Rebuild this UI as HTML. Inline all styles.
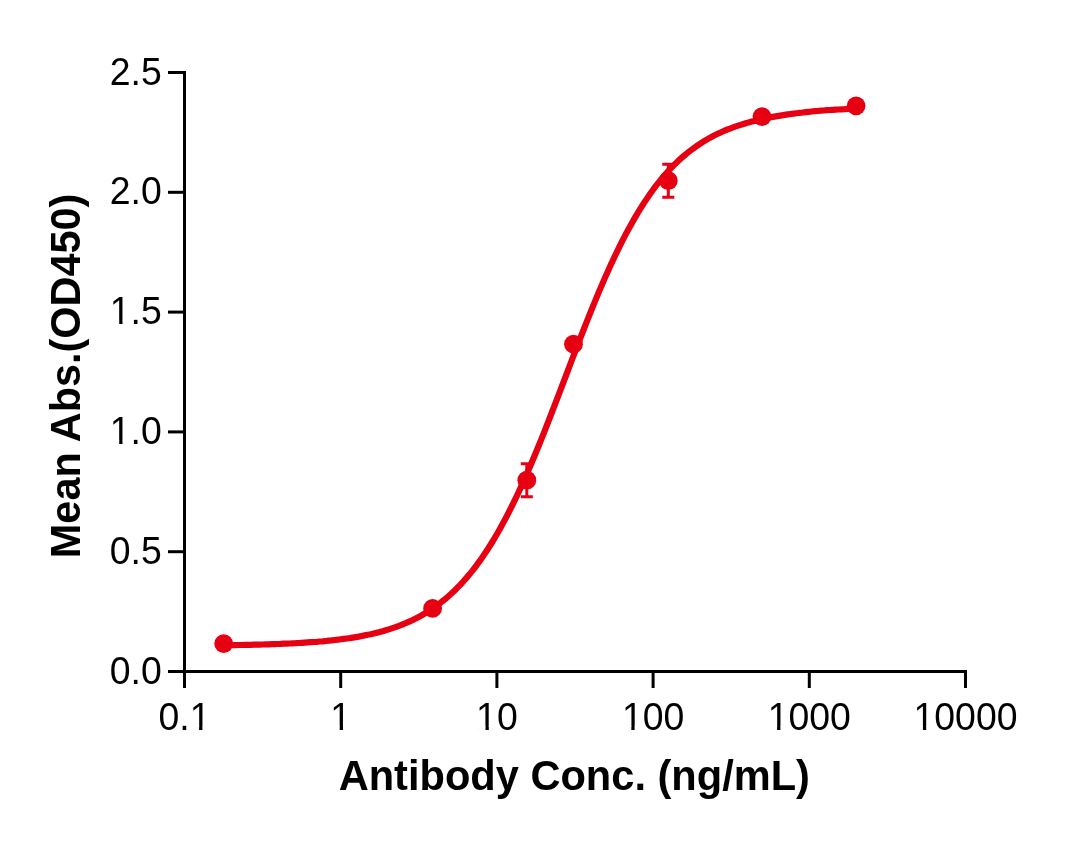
<!DOCTYPE html>
<html><head><meta charset="utf-8"><title>Chart</title>
<style>
html,body{margin:0;padding:0;background:#fff;}
body{width:1088px;height:843px;overflow:hidden;}
svg{display:block;}
text{font-family:"Liberation Sans",sans-serif;fill:#000;}
.tk{font-size:37.4px;}
.tt{font-size:41.6px;font-weight:bold;}
</style></head><body>
<svg width="1088" height="843" viewBox="0 0 1088 843">
<rect width="1088" height="843" fill="#fff"/>
<g stroke="#000" stroke-width="3" fill="none" stroke-linecap="butt">
<path d="M184.5 71.0 V688.0"/>
<path d="M168.0 671.5 H967.0"/>
<path d="M168.0 551.7 H184.5"/>
<path d="M168.0 431.9 H184.5"/>
<path d="M168.0 312.1 H184.5"/>
<path d="M168.0 192.3 H184.5"/>
<path d="M168.0 72.5 H184.5"/>
<path d="M340.7 671.5 V688.0"/>
<path d="M496.9 671.5 V688.0"/>
<path d="M653.1 671.5 V688.0"/>
<path d="M809.3 671.5 V688.0"/>
<path d="M965.5 671.5 V688.0"/>
</g>
<text class="tk" transform="translate(161.8 683.5) scale(1 1.04)" text-anchor="end">0.0</text>
<text class="tk" transform="translate(161.8 563.7) scale(1 1.04)" text-anchor="end">0.5</text>
<text class="tk" transform="translate(161.8 443.9) scale(1 1.04)" text-anchor="end">1.0</text>
<text class="tk" transform="translate(161.8 324.1) scale(1 1.04)" text-anchor="end">1.5</text>
<text class="tk" transform="translate(161.8 204.3) scale(1 1.04)" text-anchor="end">2.0</text>
<text class="tk" transform="translate(161.8 84.5) scale(1 1.04)" text-anchor="end">2.5</text>
<text class="tk" transform="translate(184.5 729.8) scale(1 1.04)" text-anchor="middle">0.1</text>
<text class="tk" transform="translate(340.7 729.8) scale(1 1.04)" text-anchor="middle">1</text>
<text class="tk" transform="translate(496.9 729.8) scale(1 1.04)" text-anchor="middle">10</text>
<text class="tk" transform="translate(653.1 729.8) scale(1 1.04)" text-anchor="middle">100</text>
<text class="tk" transform="translate(809.3 729.8) scale(1 1.04)" text-anchor="middle">1000</text>
<text class="tk" transform="translate(965.5 729.8) scale(1 1.04)" text-anchor="middle">10000</text>
<g fill="#fff"><rect x="111.96" y="440.39" width="7.26" height="4.11"/><rect x="122.52" y="440.39" width="6.96" height="4.11"/><rect x="111.96" y="320.59" width="7.26" height="4.11"/><rect x="122.52" y="320.59" width="6.96" height="4.11"/><rect x="191.84" y="726.29" width="7.26" height="4.11"/><rect x="202.41" y="726.29" width="6.96" height="4.11"/><rect x="332.45" y="726.29" width="7.26" height="4.11"/><rect x="343.01" y="726.29" width="6.96" height="4.11"/><rect x="478.25" y="726.29" width="7.26" height="4.11"/><rect x="488.81" y="726.29" width="6.96" height="4.11"/><rect x="624.05" y="726.29" width="7.26" height="4.11"/><rect x="634.61" y="726.29" width="6.96" height="4.11"/><rect x="769.85" y="726.29" width="7.26" height="4.11"/><rect x="780.41" y="726.29" width="6.96" height="4.11"/><rect x="915.65" y="726.29" width="7.26" height="4.11"/><rect x="926.21" y="726.29" width="6.96" height="4.11"/></g>
<text class="tt" transform="translate(574.3 789.8) scale(1 1.03)" text-anchor="middle">Antibody Conc. (ng/mL)</text>
<text class="tt" style="font-size:41.45px" transform="translate(80.3 375.9) rotate(-90) scale(1 1.045)" text-anchor="middle">Mean Abs.(OD450)</text>
<g stroke="#e60012" stroke-width="3" fill="none">
<path d="M526.8 463.7 V496.7 M520.8 463.7 H532.8 M520.8 496.7 H532.8"/>
<path d="M668.3 164.2 V197.2 M662.3 164.2 H674.3 M662.3 197.2 H674.3"/>
</g>
<path d="M223.7 645.3 L226.7 645.2 L229.7 645.2 L232.7 645.1 L235.7 645.1 L238.7 645.0 L241.7 645.0 L244.7 644.9 L247.7 644.8 L250.7 644.8 L253.7 644.7 L256.7 644.6 L259.7 644.6 L262.7 644.5 L265.7 644.4 L268.7 644.3 L271.7 644.2 L274.7 644.1 L277.7 644.0 L280.7 643.9 L283.7 643.7 L286.7 643.6 L289.7 643.5 L292.7 643.3 L295.7 643.2 L298.7 643.0 L301.7 642.8 L304.7 642.6 L307.7 642.4 L310.7 642.2 L313.7 642.0 L316.7 641.8 L319.7 641.5 L322.7 641.3 L325.7 641.0 L328.7 640.7 L331.7 640.4 L334.7 640.0 L337.7 639.7 L340.7 639.3 L343.7 638.9 L346.7 638.5 L349.7 638.1 L352.7 637.6 L355.7 637.1 L358.7 636.6 L361.7 636.0 L364.7 635.4 L367.7 634.8 L370.7 634.2 L373.7 633.5 L376.7 632.7 L379.7 632.0 L382.7 631.2 L385.7 630.3 L388.7 629.4 L391.7 628.4 L394.7 627.4 L397.7 626.3 L400.7 625.2 L403.7 624.0 L406.7 622.7 L409.7 621.4 L412.7 620.0 L415.7 618.5 L418.7 616.9 L421.7 615.3 L424.7 613.5 L427.7 611.7 L430.7 609.8 L433.7 607.7 L436.7 605.6 L439.7 603.4 L442.7 601.0 L445.7 598.6 L448.7 596.0 L451.7 593.3 L454.7 590.4 L457.7 587.4 L460.7 584.3 L463.7 581.0 L466.7 577.6 L469.7 574.1 L472.7 570.3 L475.7 566.5 L478.7 562.4 L481.7 558.2 L484.7 553.8 L487.7 549.2 L490.7 544.5 L493.7 539.6 L496.7 534.5 L499.7 529.3 L502.7 523.8 L505.7 518.2 L508.7 512.4 L511.7 506.5 L514.7 500.3 L517.7 494.0 L520.7 487.6 L523.7 480.9 L526.7 474.2 L529.7 467.2 L532.7 460.2 L535.7 453.0 L538.7 445.7 L541.7 438.3 L544.7 430.8 L547.7 423.1 L550.7 415.5 L553.7 407.7 L556.7 399.9 L559.7 392.1 L562.7 384.2 L565.7 376.3 L568.7 368.4 L571.7 360.5 L574.7 352.7 L577.7 344.9 L580.7 337.1 L583.7 329.5 L586.7 321.8 L589.7 314.3 L592.7 306.9 L595.7 299.6 L598.7 292.4 L601.7 285.4 L604.7 278.4 L607.7 271.7 L610.7 265.0 L613.7 258.6 L616.7 252.3 L619.7 246.2 L622.7 240.2 L625.7 234.4 L628.7 228.8 L631.7 223.4 L634.7 218.1 L637.7 213.0 L640.7 208.1 L643.7 203.4 L646.7 198.9 L649.7 194.5 L652.7 190.3 L655.7 186.2 L658.7 182.4 L661.7 178.7 L664.7 175.1 L667.7 171.7 L670.7 168.5 L673.7 165.4 L676.7 162.4 L679.7 159.6 L682.7 156.9 L685.7 154.3 L688.7 151.9 L691.7 149.6 L694.7 147.4 L697.7 145.3 L700.7 143.3 L703.7 141.4 L706.7 139.6 L709.7 137.9 L712.7 136.3 L715.7 134.8 L718.7 133.3 L721.7 132.0 L724.7 130.7 L727.7 129.4 L730.7 128.3 L733.7 127.2 L736.7 126.1 L739.7 125.1 L742.7 124.2 L745.7 123.3 L748.7 122.4 L751.7 121.6 L754.7 120.9 L757.7 120.1 L760.7 119.4 L763.7 118.8 L766.7 118.1 L769.7 117.5 L772.7 116.9 L775.7 116.4 L778.7 115.9 L781.7 115.4 L784.7 114.9 L787.7 114.4 L790.7 114.0 L793.7 113.6 L796.7 113.2 L799.7 112.8 L802.7 112.5 L805.7 112.1 L808.7 111.8 L811.7 111.5 L814.7 111.2 L817.7 111.0 L820.7 110.7 L823.7 110.5 L826.7 110.2 L829.7 110.0 L832.7 109.8 L835.7 109.6 L838.7 109.5 L841.7 109.3 L844.7 109.2 L847.7 109.0 L850.7 108.9 L853.7 108.7 L856.1 108.6" stroke="#e60012" stroke-width="6.2" fill="none" stroke-linejoin="round"/>
<circle cx="223.7" cy="643.7" r="9.4" fill="#e60012"/>
<circle cx="432.6" cy="608.4" r="9.4" fill="#e60012"/>
<circle cx="526.8" cy="480.2" r="9.4" fill="#e60012"/>
<circle cx="573.5" cy="344.2" r="9.4" fill="#e60012"/>
<circle cx="668.3" cy="180.7" r="9.4" fill="#e60012"/>
<circle cx="762.0" cy="116.6" r="9.4" fill="#e60012"/>
<circle cx="856.1" cy="105.8" r="9.4" fill="#e60012"/>
</svg></body></html>
